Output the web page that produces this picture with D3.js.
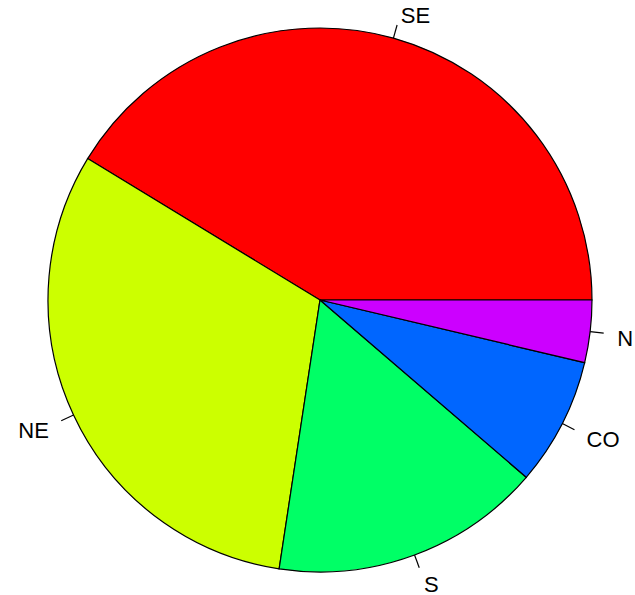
<!DOCTYPE html>
<html>
<head>
<meta charset="utf-8">
<script src="https://cdn.jsdelivr.net/npm/d3@7"></script>
<style>
  body { margin: 0; background: #fff; }
  text { font-family: "Liberation Sans", Arial, sans-serif; }
</style>
</head>
<body>
<svg width="635" height="595"></svg>
<script>
const regions = ['SE', 'NE', 'S', 'CO', 'N'];
const shares = [41.3, 31.3, 16.1, 7.6, 3.7];
const colors = ['#FF0000', '#CCFF00', '#00FF66', '#0066FF', '#CC00FF'];

const svg = d3.select('svg');
const cx = 320, cy = 300, radius = 272;

// R's pie: counterclockwise from 3 o'clock
const pie = d3.pie()
  .sort(null)
  .startAngle(Math.PI / 2)
  .endAngle(Math.PI / 2 - 2 * Math.PI);

const arcs = pie(shares);
const arc = d3.arc().innerRadius(0).outerRadius(radius);

const g = svg.append('g').attr('transform', `translate(${cx},${cy})`);

g.selectAll('path')
  .data(arcs)
  .enter()
  .append('path')
  .attr('d', arc)
  .attr('fill', (d, i) => colors[i])
  .attr('stroke', '#000')
  .attr('stroke-width', 1.2);

const pt = (a, r) => [Math.sin(a) * r, -Math.cos(a) * r];

arcs.forEach((d, i) => {
  const mid = (d.startAngle + d.endAngle) / 2;
  const p0 = pt(mid, radius);
  const p1 = pt(mid, radius * 1.05);
  const p2 = pt(mid, radius * 1.1);
  g.append('line')
    .attr('x1', p0[0]).attr('y1', p0[1])
    .attr('x2', p1[0]).attr('y2', p1[1])
    .attr('stroke', '#000')
    .attr('stroke-width', 1.2);
  g.append('text')
    .attr('x', p2[0])
    .attr('y', p2[1] + 11)
    .attr('text-anchor', p2[0] > 0 ? 'start' : 'end')
    .attr('font-size', 22)
    .attr('fill', '#000')
    .text(regions[i]);
});
</script>
</body>
</html>
